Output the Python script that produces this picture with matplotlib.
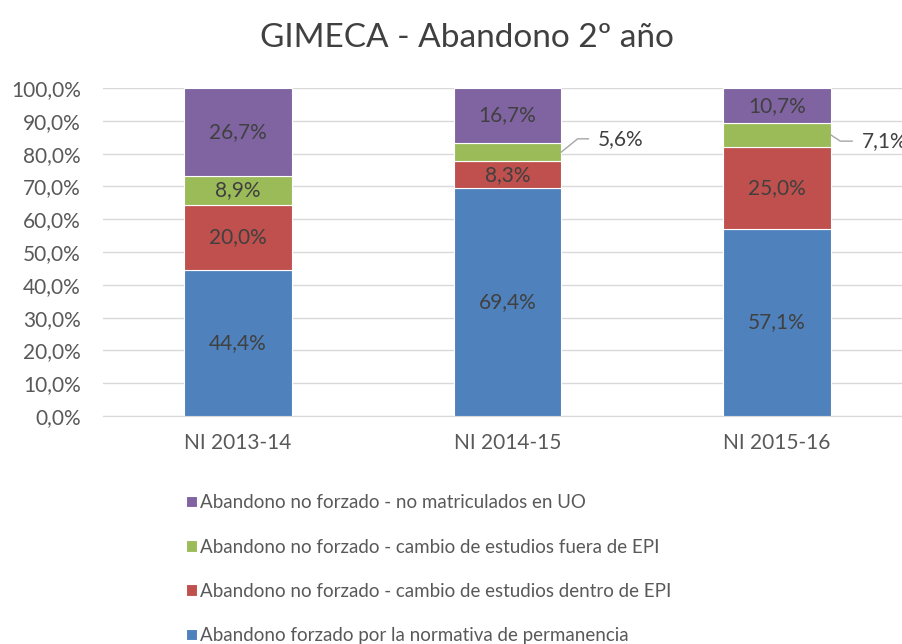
import matplotlib
matplotlib.use("Agg")
import matplotlib.pyplot as plt
import numpy as np

plt.rcParams["font.family"] = ["Lato", "DejaVu Sans"]

# ── data ──────────────────────────────────────────────────────────────────────
cohorts = ["NI 2013-14", "NI 2014-15", "NI 2015-16"]
series_names = [
    "Abandono forzado por la normativa de permanencia",
    "Abandono no forzado - cambio de estudios dentro de EPI",
    "Abandono no forzado - cambio de estudios fuera de EPI",
    "Abandono no forzado - no matriculados en UO",
]
forzado  = [44.4, 69.4, 57.1]
dentro   = [20.0, 8.3, 25.0]
fuera    = [8.9, 5.6, 7.1]
no_matr  = [26.7, 16.7, 10.7]
yticks   = [0, 10, 20, 30, 40, 50, 60, 70, 80, 90, 100]

COLORS = ["#4F81BD", "#C0504D", "#9BBB59", "#8064A2"]
TXT = "#404040"

def pct(v):
    return f"{v:.1f}%".replace(".", ",")

# ── figure ────────────────────────────────────────────────────────────────────
fig = plt.figure(figsize=(9.02, 6.44), dpi=100)
ax = fig.add_axes([103 / 902, (644 - 416) / 644, 809 / 902, 328 / 644])

x = np.arange(len(cohorts))
bottom = np.zeros(len(cohorts))
bars = []
for vals, col, name in zip([forzado, dentro, fuera, no_matr], COLORS, series_names):
    b = ax.bar(x, vals, 0.4, bottom=bottom, color=col, edgecolor="white",
               linewidth=0.8, label=name, zorder=3)
    bars.append(b)
    for i, v in enumerate(vals):
        # small green segments of bar 2 and 3 get outside labels with leader lines
        if vals is fuera and i > 0:
            continue
        ax.text(x[i], bottom[i] + v / 2, pct(v),
                ha="center", va="center", fontsize=15, color=TXT, zorder=4)
    bottom += np.array(vals)

# leader-line labels
mid2 = forzado[1] + dentro[1] + fuera[1] / 2
ax.plot([x[1] + 0.2, x[1] + 0.26, x[1] + 0.30], [mid2, 84.5, 84.5],
        color="#A6A6A6", lw=1, zorder=4)
ax.text(x[1] + 0.334, 84.5, pct(fuera[1]),
        ha="left", va="center", fontsize=15, color=TXT)

mid3 = forzado[2] + dentro[2] + fuera[2] / 2
ax.plot([x[2] + 0.2, x[2] + 0.234, x[2] + 0.278], [mid3, 83.8, 83.8],
        color="#A6A6A6", lw=1, zorder=4)
ax.text(x[2] + 0.315, 83.8, pct(fuera[2]),
        ha="left", va="center", fontsize=15, color=TXT, clip_on=False)

ax.set_xlim(-0.5, 2.5)
ax.set_ylim(0, 100)
ax.set_yticks(yticks)
ax.set_yticklabels([pct(t) for t in yticks])
ax.set_xticks(x)
ax.set_xticklabels(cohorts)
ax.tick_params(axis="both", length=0, labelsize=15, colors="#595959")
ax.tick_params(axis="y", pad=16)
ax.tick_params(axis="x", pad=12)
ax.grid(axis="y", color="#D9D9D9", lw=1, zorder=0)
for s in ["top", "right", "left"]:
    ax.spines[s].set_visible(False)
ax.spines["bottom"].set_color("#D9D9D9")

fig.text(467 / 902, 1 - 38 / 644, "GIMECA - Abandono 2º año", ha="center",
         va="center", fontsize=24, color=TXT)

handles = [b[0] for b in bars][::-1]
labels = series_names[::-1]
fig.legend(handles, labels, loc="upper left", bbox_to_anchor=(177 / 902, 1 - 485 / 644),
           frameon=False, fontsize=13.5, labelcolor="#595959", handlelength=0.55,
           handleheight=0.55, handletextpad=0.15, labelspacing=1.45, borderpad=0)

fig.savefig("out.png", dpi=100)
